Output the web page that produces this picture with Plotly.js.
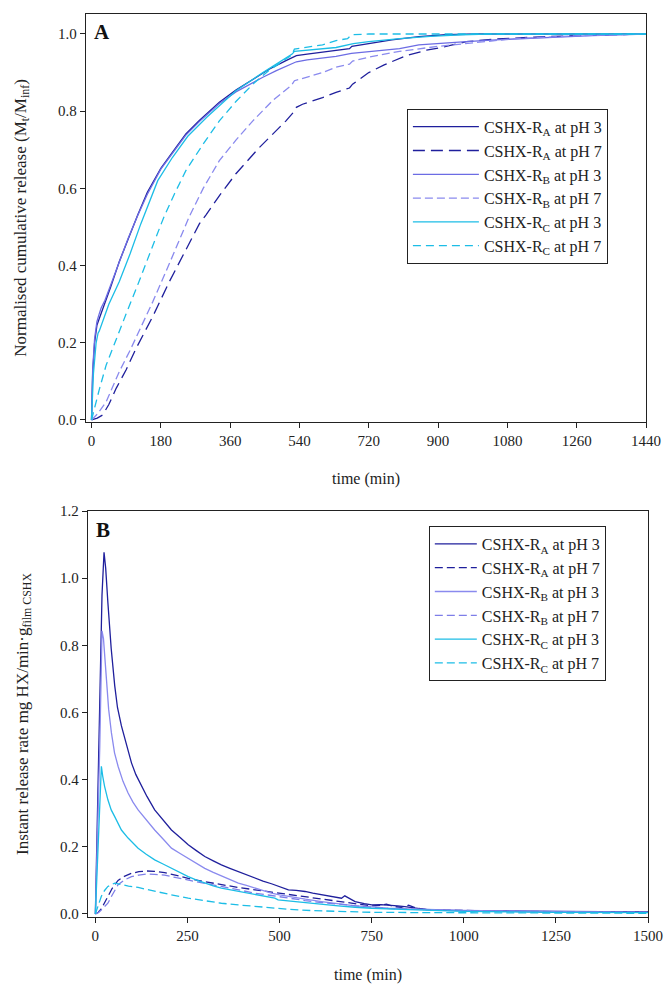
<!DOCTYPE html>
<html>
<head>
<meta charset="utf-8">
<script src="https://cdn.plot.ly/plotly-3.0.1.min.js"></script>
<style>html,body{margin:0;padding:0;background:#fff;}#chart{width:664px;height:984px;}</style>
</head>
<body>
<div id="chart"></div>
<script>
// ---------- Panel A: normalised cumulative release ----------
const aRA3_t = [0,3,8,14,20,25,35,50,72,95,120,145,159,180,210,245,280,332,375,419,460,505,527,532,560,600,635,670,676,720,780,850,920,1000,1100,1250,1440];
const aRA3_v = [0,0.12,0.2,0.245,0.262,0.275,0.305,0.345,0.41,0.47,0.531,0.59,0.615,0.652,0.693,0.741,0.776,0.823,0.855,0.883,0.908,0.931,0.94,0.944,0.948,0.953,0.957,0.962,0.968,0.975,0.985,0.993,0.998,1.0,1.0,1.0,1.0];

const aRA7_t = [0,15,29,45,64,90,116,160,202,250,280,297,335,375,436,505,527,532,548,600,635,670,678,720,760,820,870,918,973,1050,1150,1300,1440];
const aRA7_v = [0,0.005,0.013,0.04,0.082,0.13,0.186,0.27,0.358,0.45,0.508,0.531,0.585,0.638,0.706,0.775,0.8,0.81,0.818,0.835,0.849,0.86,0.87,0.9,0.92,0.945,0.958,0.967,0.98,0.987,0.992,0.997,1.0];

const aRB3_t = [0,3,8,14,20,25,35,50,72,95,120,145,180,210,245,280,332,375,419,445,480,522,532,560,600,635,675,720,800,850,900,973,1050,1150,1300,1440];
const aRB3_v = [0,0.13,0.21,0.255,0.275,0.29,0.31,0.35,0.41,0.47,0.53,0.585,0.65,0.692,0.738,0.773,0.82,0.85,0.874,0.888,0.905,0.925,0.928,0.933,0.938,0.942,0.95,0.955,0.962,0.972,0.976,0.98,0.985,0.99,0.996,1.0];

const aRB7_t = [0,15,38,55,72,100,130,159,200,245,254,290,332,375,419,470,520,527,560,600,635,670,678,720,800,900,1000,1100,1250,1440];
const aRB7_v = [0,0.015,0.047,0.085,0.125,0.18,0.245,0.306,0.4,0.508,0.527,0.6,0.672,0.725,0.775,0.827,0.868,0.879,0.888,0.9,0.914,0.922,0.93,0.94,0.955,0.968,0.978,0.988,0.995,1.0];

const aRC3_t = [0,5,12,17,20,30,45,72,100,128,137,172,210,250,300,375,445,490,521,527,560,600,635,680,720,800,880,960,1030,1440];
const aRC3_v = [0,0.12,0.2,0.225,0.23,0.26,0.3,0.358,0.43,0.508,0.531,0.62,0.68,0.735,0.785,0.853,0.9,0.928,0.948,0.955,0.958,0.962,0.965,0.975,0.98,0.988,0.994,0.998,1.0,1.0];

const aRC7_t = [0,10,20,38,60,90,120,150,181,189,215,245,290,332,375,419,460,497,520,527,560,600,635,665,675,720,800,1440];
const aRC7_v = [0,0.04,0.078,0.142,0.2,0.275,0.35,0.43,0.508,0.528,0.585,0.646,0.715,0.775,0.825,0.87,0.905,0.93,0.945,0.961,0.966,0.972,0.983,0.988,0.998,1.0,1.0,1.0];

// ---------- Panel B: instant release rate ----------
const bRA3_t = [0,5,12,18,23.5,28,34,43,52.5,60,70.7,85,98,110,125,140,161,185,206.5,230,252,275,297,320,342,365,388,410,433,455,478,500,524,545,569,590,614,640,668,677,690,705,730,750,775,795,820,840,870,900,950,1000,1100,1250,1400,1500];
const bRA3_v = [0,0.25,0.58,0.95,1.077,1.03,0.927,0.79,0.68,0.615,0.56,0.5,0.45,0.415,0.38,0.35,0.31,0.278,0.25,0.228,0.206,0.188,0.171,0.158,0.146,0.136,0.126,0.116,0.106,0.098,0.09,0.082,0.072,0.07,0.067,0.062,0.057,0.053,0.047,0.054,0.045,0.037,0.031,0.027,0.028,0.027,0.024,0.022,0.018,0.013,0.011,0.01,0.009,0.008,0.007,0.006];

const bRA7_t = [0,8,16,25,34,45,61.6,80,98,118,138.6,160,188,220,252,297,342,388,433,478,524,569,614,650,677,710,750,775,790,810,830,850,870,900,1000,1100,1250,1500];
const bRA7_v = [0,0.005,0.015,0.032,0.052,0.075,0.1,0.113,0.121,0.126,0.128,0.127,0.123,0.115,0.106,0.096,0.087,0.079,0.072,0.065,0.057,0.05,0.044,0.039,0.034,0.03,0.024,0.026,0.029,0.022,0.02,0.026,0.018,0.013,0.01,0.008,0.006,0.005];

const bRB3_t = [0,5,12,18,22,30,36,43.5,52,61.6,75,88.8,102,116,138,161,185,206.5,230,252,275,297,320,342,365,388,410,433,455,478,500,524,570,614,660,705,750,795,850,900,1000,1100,1250,1500];
const bRB3_v = [0,0.2,0.5,0.843,0.82,0.7,0.61,0.54,0.48,0.44,0.395,0.36,0.333,0.31,0.28,0.25,0.222,0.196,0.18,0.166,0.15,0.136,0.124,0.113,0.102,0.092,0.085,0.077,0.07,0.062,0.057,0.052,0.044,0.037,0.03,0.024,0.021,0.017,0.015,0.013,0.011,0.009,0.007,0.005];

const bRB7_t = [0,8,16,25,34,45,61.6,80,98,118,138.6,160,188,220,252,297,342,388,433,478,524,569,614,660,705,750,800,900,1000,1250,1500];
const bRB7_v = [0,0.004,0.012,0.022,0.032,0.055,0.087,0.102,0.111,0.116,0.119,0.118,0.116,0.108,0.1,0.091,0.082,0.072,0.062,0.055,0.047,0.04,0.034,0.029,0.024,0.02,0.016,0.012,0.01,0.007,0.005];

const bRC3_t = [0,5,10,16.3,20,25,34,43,52.5,61,70.7,88.8,102,116,138,161,185,206.5,230,252,275,297,320,342,365,388,410,433,460,487,496,530,569,614,659,705,750,850,1000,1250,1500];
const bRC3_v = [0,0.12,0.28,0.44,0.41,0.38,0.34,0.31,0.29,0.27,0.25,0.226,0.21,0.196,0.178,0.161,0.148,0.136,0.123,0.111,0.101,0.092,0.084,0.077,0.072,0.067,0.062,0.057,0.052,0.047,0.042,0.038,0.034,0.029,0.024,0.02,0.017,0.013,0.008,0.005,0.004];

const bRC7_t = [0,8,16,25,34,52.5,70.7,90,116,140,161,206,252,297,342,388,433,478,524,590,659,750,900,1100,1500];
const bRC7_v = [0,0.025,0.052,0.07,0.082,0.092,0.087,0.083,0.079,0.073,0.067,0.057,0.047,0.039,0.032,0.027,0.022,0.018,0.014,0.01,0.007,0.005,0.004,0.003,0.002];

const seriesNames = [
  'CSHX-R<sub>A</sub> at pH 3','CSHX-R<sub>A</sub> at pH 7',
  'CSHX-R<sub>B</sub> at pH 3','CSHX-R<sub>B</sub> at pH 7',
  'CSHX-R<sub>C</sub> at pH 3','CSHX-R<sub>C</sub> at pH 7'
];
const xTicksA = [0,180,360,540,720,900,1080,1260,1440];
const xTicksB = [0,250,500,750,1000,1250,1500];
const yTicksA = [0,0.2,0.4,0.6,0.8,1.0];
const yTicksB = [0,0.2,0.4,0.6,0.8,1.0,1.2];

const NAVY = '#1f1f9c', PURP = '#6c6ce4', LPURP = '#8a8aee', CYAN = '#1cbde6';
const FONT = '"Liberation Serif", "Times New Roman", serif';

function tr(x, y, name, color, dash, xa, ya, leg) {
  return {x: x, y: y, name: name, type: 'scatter', mode: 'lines',
    line: {color: color, width: 1.3, dash: dash},
    xaxis: xa, yaxis: ya, legend: leg, hoverinfo: 'skip'};
}

const data = [
  tr(aRA3_t, aRA3_v, seriesNames[0], NAVY, 'solid', 'x', 'y', 'legend'),
  tr(aRA7_t, aRA7_v, seriesNames[1], NAVY, '12px,6px', 'x', 'y', 'legend'),
  tr(aRB3_t, aRB3_v, seriesNames[2], PURP, 'solid', 'x', 'y', 'legend'),
  tr(aRB7_t, aRB7_v, seriesNames[3], LPURP, '8px,4px', 'x', 'y', 'legend'),
  tr(aRC3_t, aRC3_v, seriesNames[4], CYAN, 'solid', 'x', 'y', 'legend'),
  tr(aRC7_t, aRC7_v, seriesNames[5], CYAN, '8px,5px', 'x', 'y', 'legend'),
  tr(bRA3_t, bRA3_v, seriesNames[0], NAVY, 'solid', 'x2', 'y2', 'legend2'),
  tr(bRA7_t, bRA7_v, seriesNames[1], NAVY, '8px,4px', 'x2', 'y2', 'legend2'),
  tr(bRB3_t, bRB3_v, seriesNames[2], LPURP, 'solid', 'x2', 'y2', 'legend2'),
  tr(bRB7_t, bRB7_v, seriesNames[3], '#7e7ee8', '8px,4px', 'x2', 'y2', 'legend2'),
  tr(bRC3_t, bRC3_v, seriesNames[4], CYAN, 'solid', 'x2', 'y2', 'legend2'),
  tr(bRC7_t, bRC7_v, seriesNames[5], CYAN, '8px,4px', 'x2', 'y2', 'legend2')
];

const axisCommon = {
  showline: true, mirror: true, linecolor: '#222', linewidth: 1.2,
  ticks: 'outside', ticklen: 5, tickwidth: 1, tickcolor: '#222',
  showgrid: false, zeroline: false,
  tickfont: {family: FONT, size: 15, color: '#222'}
};

const layout = {
  width: 664, height: 984,
  margin: {l: 86, r: 16, t: 14, b: 67},
  paper_bgcolor: '#fff', plot_bgcolor: '#fff',
  font: {family: FONT, color: '#222'},
  showlegend: true,
  xaxis: Object.assign({}, axisCommon, {
    domain: [0, 0.99644], range: [-14.3, 1440], tickvals: xTicksA,
    anchor: 'y',
    title: {text: 'time (min)', font: {family: FONT, size: 16, color: '#222'}, standoff: 24}
  }),
  yaxis: Object.assign({}, axisCommon, {
    domain: [0.5482, 1], range: [-0.0052, 1.0518], tickvals: yTicksA,
    tickformat: '.1f', anchor: 'x',
    title: {text: 'Normalised cumulative release (M<sub>t</sub>/M<sub>inf</sub>)', font: {family: FONT, size: 17, color: '#222'}, standoff: 27}
  }),
  xaxis2: Object.assign({}, axisCommon, {
    domain: [0.00356, 1], range: [-20, 1500], tickvals: xTicksB,
    anchor: 'y2',
    title: {text: 'time (min)', font: {family: FONT, size: 16, color: '#222'}, standoff: 25}
  }),
  yaxis2: Object.assign({}, axisCommon, {
    domain: [0, 0.4496], range: [-0.009, 1.2], tickvals: yTicksB,
    tickformat: '.1f', anchor: 'x2',
    title: {text: 'Instant release rate mg HX/min·g<sub>film CSHX</sub>', font: {family: FONT, size: 17, color: '#222'}, standoff: 27}
  }),
  legend: {
    x: 0.571, y: 0.895, xanchor: 'left', yanchor: 'top',
    bgcolor: '#fff', bordercolor: '#222', borderwidth: 1,
    font: {family: FONT, size: 16, color: '#222'},
    itemwidth: 66, traceorder: 'normal'
  },
  legend2: {
    x: 0.610, y: 0.4330, xanchor: 'left', yanchor: 'top',
    bgcolor: '#fff', bordercolor: '#222', borderwidth: 1,
    font: {family: FONT, size: 16, color: '#222'},
    itemwidth: 42, traceorder: 'normal'
  },
  annotations: [
    {text: '<b>A</b>', xref: 'paper', yref: 'paper', x: 0.0276, y: 0.980, showarrow: false,
     xanchor: 'center', yanchor: 'middle', font: {family: FONT, size: 21, color: '#111'}},
    {text: '<b>B</b>', xref: 'paper', yref: 'paper', x: 0.0311, y: 0.4286, showarrow: false,
     xanchor: 'center', yanchor: 'middle', font: {family: FONT, size: 21, color: '#111'}}
  ]
};

Plotly.newPlot('chart', data, layout, {displayModeBar: false, staticPlot: true});
</script>
</body>
</html>
